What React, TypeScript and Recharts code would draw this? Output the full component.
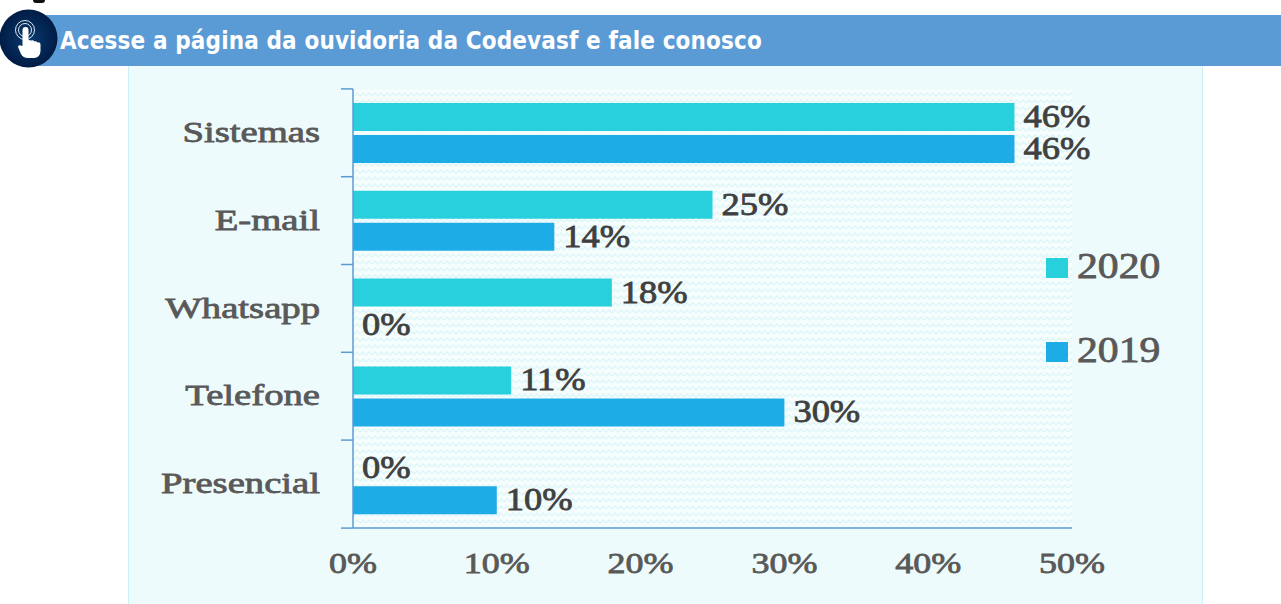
import React from "react";
import { BarChart, Bar, XAxis, YAxis, CartesianGrid, LabelList, Legend } from "recharts";

const categories = ["Sistemas", "E-mail", "Whatsapp", "Telefone", "Presencial"];
const values2020 = [46, 25, 18, 11, 0];
const values2019 = [46, 14, 0, 30, 10];
const xTicks = [0, 10, 20, 30, 40, 50];
const legendOrder = ["2020", "2019"];
const title = "Acesse a página da ouvidoria da Codevasf e fale conosco";

const data = categories.map((name, i) => ({ name, y2020: values2020[i], y2019: values2019[i] }));

const SERIF = "'Liberation Serif', serif";
const AXIS = "#5B9BD5";
const TEAL = "#27D0DC";
const BLUE = "#1DACE6";
const BAND = 88;

const CategoryTick = (props: any) => {
  const { x, y, payload, index } = props;
  const last = index === categories.length - 1;
  return (
    <g>
      <line x1={341} x2={353} y1={y - BAND / 2} y2={y - BAND / 2} stroke={AXIS} strokeWidth={1.5} />
      {last && <line x1={341} x2={353} y1={y + BAND / 2} y2={y + BAND / 2} stroke={AXIS} strokeWidth={1.5} />}
      <text
        transform={`translate(${x - 25},${y + 9}) scale(1.29,1)`}
        textAnchor="end"
        fontFamily={SERIF}
        fontSize={30}
        fill="#595959"
        stroke="#595959"
        strokeWidth={0.8}
      >
        {payload.value}
      </text>
    </g>
  );
};

const ValueTick = (props: any) => {
  const { x, y, payload } = props;
  return (
    <text
      transform={`translate(${x},${y + 12}) scale(1.2,1)`}
      textAnchor="middle"
      fontFamily={SERIF}
      fontSize={30}
      fill="#595959"
      stroke="#595959"
      strokeWidth={0.8}
    >
      {payload.value}%
    </text>
  );
};

const BarValue = (props: any) => {
  const { x, y, width, height, value } = props;
  return (
    <text
      transform={`translate(${x + width + 9},${y + height / 2 + 10}) scale(1.14,1)`}
      fontFamily={SERIF}
      fontSize={32}
      fill="#404040"
      stroke="#404040"
      strokeWidth={0.8}
    >
      {value}%
    </text>
  );
};

const LegendBox = (props: any) => {
  const items = legendOrder.map((v) => (props.payload || []).find((p: any) => p.value === v)).filter(Boolean);
  return (
    <div style={{ width: 150, height: 120, position: "relative" }}>
      {items.map((it: any, i: number) => (
        <div key={it.value} style={{ position: "absolute", left: 0, top: i * 84, height: 36, width: 150 }}>
          <span style={{ position: "absolute", left: 0, top: 8, width: 22, height: 20, background: it.color }} />
          <span
            style={{
              position: "absolute",
              left: 31,
              top: -3,
              fontFamily: SERIF,
              fontSize: 35,
              color: "#595959",
              transform: "scale(1.19,1)",
              transformOrigin: "left center",
              WebkitTextStroke: "0.8px #595959",
            }}
          >
            {it.value}
          </span>
        </div>
      ))}
    </div>
  );
};

const HandIcon = () => (
  <svg width={60} height={60} style={{ position: "absolute", left: 0, top: 9 }}>
    <defs>
      <radialGradient id="navy">
        <stop offset="0%" stopColor="#0a3a70" />
        <stop offset="100%" stopColor="#001c45" />
      </radialGradient>
    </defs>
    <circle cx={28.5} cy={29.5} r={29} fill="url(#navy)" />
    <circle cx={25} cy={21} r={9.5} fill="none" stroke="#dfe8f2" strokeWidth={1} />
    <circle cx={25} cy={21} r={6.5} fill="none" stroke="#dfe8f2" strokeWidth={1} />
    <path
      d="M22.5 21 a3 3 0 0 1 6 0 V31 l3 0.5 a2.5 2.5 0 0 1 3 1 a2.5 2.5 0 0 1 3 1 a2.4 2.4 0 0 1 3 1.5 V42 Q40 49 34 49 H28 Q23 49 21 45 L18 38 Q18 35 22.5 37 Z"
      fill="#fff"
    />
  </svg>
);

export default function App() {
  return (
    <div style={{ position: "absolute", left: 0, top: 0, width: 1281, height: 604, overflow: "hidden", background: "#fff" }}>
      <div style={{ position: "absolute", left: 33, top: 0, width: 12, height: 3, borderRadius: "0 0 6px 6px", background: "#111" }} />
      <div style={{ position: "absolute", left: 20, top: 15, width: 1261, height: 51, background: "#5B9BD5" }} />
      <div
        style={{
          position: "absolute",
          left: 60,
          top: 26,
          fontFamily: "'DejaVu Sans Condensed', 'DejaVu Sans', sans-serif",
          fontWeight: 700,
          fontSize: 24,
          letterSpacing: 0.13,
          lineHeight: "30px",
          color: "#fff",
          whiteSpace: "nowrap",
        }}
      >
        {title}
      </div>
      <HandIcon />
      <div
        style={{
          position: "absolute",
          left: 128,
          top: 66,
          width: 1073,
          height: 538,
          background: "#EEFBFC",
          borderLeft: "1px solid #CDF1F6",
          borderRight: "1px solid #CDF1F6",
        }}
      />
      <div style={{ position: "absolute", left: 0, top: 0 }}>
        <BarChart
          width={1281}
          height={604}
          data={data}
          layout="vertical"
          margin={{ top: 89, right: 59, bottom: 36, left: 153 }}
          barSize={28}
          barGap={4}
        >
          <defs>
            <pattern id="zig" width={12} height={7} patternUnits="userSpaceOnUse">
              <rect width={12} height={7} fill="#F5FDFD" />
              <path d="M0 5 L3 2 L6 5 L9 2 L12 5" fill="none" stroke="#DAF4F8" strokeWidth={1.1} />
            </pattern>
          </defs>
          <CartesianGrid horizontal={false} vertical={false} fill="url(#zig)" stroke="none" />
          <XAxis
            type="number"
            domain={[0, 50]}
            ticks={xTicks}
            height={40}
            interval={0}
            tickLine={false}
            axisLine={{ stroke: AXIS, strokeWidth: 1.5 }}
            tick={<ValueTick />}
            tickMargin={27}
          />
          <YAxis
            type="category"
            dataKey="name"
            width={200}
            interval={0}
            tickLine={false}
            axisLine={{ stroke: AXIS, strokeWidth: 1.5 }}
            tick={<CategoryTick />}
          />
          <Legend
            layout="vertical"
            align="right"
            verticalAlign="top"
            content={<LegendBox />}
            wrapperStyle={{ left: 1046, top: 250, right: "auto", width: 150 }}
          />
          <Bar dataKey="y2020" name="2020" fill={TEAL} minPointSize={0.01} isAnimationActive={false}>
            <LabelList dataKey="y2020" content={<BarValue />} />
          </Bar>
          <Bar dataKey="y2019" name="2019" fill={BLUE} minPointSize={0.01} isAnimationActive={false}>
            <LabelList dataKey="y2019" content={<BarValue />} />
          </Bar>
        </BarChart>
      </div>
    </div>
  );
}
